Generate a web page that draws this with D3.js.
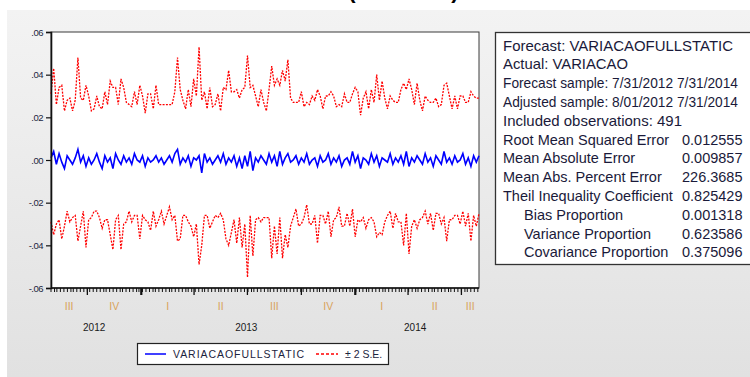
<!DOCTYPE html>
<html>
<head>
<meta charset="utf-8">
<script src="https://cdn.jsdelivr.net/npm/d3@7"></script>
<style>
  body { margin: 0; background: #fff; }
  svg { display: block; font-family: "Liberation Sans", Arial, sans-serif; }
</style>
</head>
<body>
<svg id="chart" width="750" height="377"></svg>
<script>
// forecast (VARIACAOFULLSTATIC)
var forecast = [
  0.001, 0.004, -0.002, 0.003, -0.001, -0.004, 0.002, 0.000, -0.002, 0.001,
  0.005, -0.001, 0.002, -0.003, 0.001, -0.002, 0.000, 0.003, -0.001, -0.004,
  0.002, -0.001, 0.001, -0.004, 0.003, 0.000, -0.002, 0.002, -0.001, 0.001,
  -0.002, 0.003, 0.000, -0.001, 0.002, -0.003, 0.001, -0.001, 0.000, 0.002,
  -0.001, 0.001, -0.002, 0.000, 0.002, -0.001, 0.003, 0.005, -0.002, 0.001,
  -0.001, 0.002, -0.003, 0.001, 0.000, 0.002, -0.006, 0.003, -0.001, 0.001,
  -0.002, 0.000, 0.002, -0.001, 0.003, -0.002, 0.001, -0.001, 0.002, -0.003,
  0.001, -0.004, 0.002, -0.003, 0.004, -0.005, 0.001, -0.001, 0.002, 0.000,
  -0.002, 0.003, -0.001, 0.002, -0.003, 0.004, -0.002, 0.001, 0.003, -0.001,
  0.000, 0.002, -0.002, 0.001, -0.001, 0.003, -0.002, 0.000, 0.001, -0.003,
  0.002, -0.001, 0.000, 0.003, -0.002, 0.001, -0.001, 0.002, -0.003, 0.000,
  0.001, -0.002, 0.004, -0.001, 0.002, -0.004, 0.001, 0.000, -0.002, 0.003,
  -0.001, 0.002, -0.003, 0.001, 0.000, -0.001, 0.003, -0.002, 0.001, -0.001,
  0.002, -0.002, 0.004, -0.003, 0.001, -0.001, 0.002, 0.000, -0.002, 0.003,
  -0.001, 0.001, -0.003, 0.002, 0.000, -0.002, 0.004, -0.001, 0.001, -0.002,
  0.002, -0.001, 0.000, 0.003, -0.002, 0.001, -0.003, 0.002, -0.001, 0.002
];

// two standard errors around the forecast
var twoSE = [
  0.030, 0.039, 0.028, 0.031, 0.036, 0.027, 0.026, 0.029, 0.025, 0.027,
  0.043, 0.030, 0.026, 0.038, 0.029, 0.025, 0.024, 0.027, 0.026, 0.028,
  0.030, 0.027, 0.036, 0.038, 0.031, 0.026, 0.040, 0.032, 0.028, 0.025,
  0.027, 0.029, 0.026, 0.036, 0.028, 0.025, 0.030, 0.032, 0.024, 0.033,
  0.027, 0.025, 0.028, 0.026, 0.024, 0.027, 0.029, 0.043, 0.035, 0.027,
  0.025, 0.031, 0.028, 0.037, 0.030, 0.051, 0.034, 0.029, 0.025, 0.033,
  0.027, 0.026, 0.029, 0.024, 0.031, 0.035, 0.041, 0.033, 0.030, 0.036,
  0.028, 0.037, 0.032, 0.052, 0.030, 0.040, 0.029, 0.026, 0.031, 0.027,
  0.025, 0.030, 0.045, 0.033, 0.041, 0.031, 0.044, 0.036, 0.044, 0.030,
  0.027, 0.025, 0.029, 0.031, 0.026, 0.024, 0.028, 0.030, 0.027, 0.036,
  0.028, 0.025, 0.030, 0.027, 0.034, 0.029, 0.026, 0.024, 0.028, 0.031,
  0.026, 0.029, 0.027, 0.035, 0.030, 0.025, 0.028, 0.032, 0.026, 0.030,
  0.028, 0.038, 0.031, 0.036, 0.029, 0.025, 0.027, 0.030, 0.026, 0.028,
  0.031, 0.038, 0.029, 0.041, 0.032, 0.027, 0.034, 0.028, 0.025, 0.027,
  0.029, 0.026, 0.030, 0.027, 0.025, 0.028, 0.031, 0.037, 0.029, 0.026,
  0.028, 0.025, 0.030, 0.027, 0.029, 0.026, 0.035, 0.028, 0.030, 0.027
];

var yTicks = [0.06, 0.04, 0.02, 0.00, -0.02, -0.04, -0.06];
var yTickLabels = [".06", ".04", ".02", ".00", "-.02", "-.04", "-.06"];
var quarters = ["III", "IV", "I", "II", "III", "IV", "I", "II", "III"];
var years = ["2012", "2013", "2014"];
var statLabels = [
  "Root Mean Squared Error", "Mean Absolute Error", "Mean Abs. Percent Error",
  "Theil Inequality Coefficient", "Bias Proportion", "Variance Proportion",
  "Covariance Proportion"
];
var statValues = ["0.012555", "0.009857", "226.3685", "0.825429", "0.001318", "0.623586", "0.375096"];
var headerLines = [
  "Forecast: VARIACAOFULLSTATIC",
  "Actual: VARIACAO",
  "Forecast sample: 7/31/2012 7/31/2014",
  "Adjusted sample: 8/01/2012 7/31/2014",
  "Included observations: 491"
];
// rendered widths of the header lines (the original font is a bit condensed)
var headerWidths = [230, 125, 235, 235, 179];

var startDate = new Date(2012, 6, 31), endDate = new Date(2014, 6, 31);
var svg = d3.select("#chart");

// background panel with a soft vertical gradient
var defs = svg.append("defs");
var grad = defs.append("linearGradient").attr("id", "bg")
  .attr("x1", 0).attr("y1", 0).attr("x2", 0).attr("y2", 1);
grad.append("stop").attr("offset", "0%").attr("stop-color", "#f3f3f3");
grad.append("stop").attr("offset", "100%").attr("stop-color", "#e1e1e1");
svg.append("rect").attr("x", 7).attr("y", 10).attr("width", 743).attr("height", 367)
  .attr("fill", "url(#bg)");

// title is cut off at the top of the picture, only the brackets peek through
svg.append("text").attr("x", 352).attr("y", -2).attr("font-size", 22)
  .attr("font-weight", "bold").attr("text-anchor", "middle").text("(");
svg.append("text").attr("x", 455).attr("y", -2).attr("font-size", 22)
  .attr("font-weight", "bold").attr("text-anchor", "middle").text(")");

var x = d3.scaleTime().domain([startDate, endDate]).range([51, 479]);
var y = d3.scaleLinear().domain([-0.06, 0.06]).range([288, 32]);

svg.append("rect").attr("x", 51).attr("y", 32).attr("width", 428).attr("height", 256)
  .attr("fill", "#fff").attr("stroke", "#3a3a3a").attr("stroke-width", 1);

var n = forecast.length;
var step = (endDate - startDate) / (n - 1);
var rows = forecast.map(function(f, i) {
  return { date: new Date(+startDate + i * step), f: f, se: twoSE[i] };
});

var line = function(acc) {
  return d3.line().x(function(d) { return x(d.date); }).y(function(d) { return y(acc(d)); });
};

svg.append("path").datum(rows).attr("fill", "none").attr("stroke", "#ff0000")
  .attr("stroke-width", 1.3).attr("stroke-dasharray", "2,1.3")
  .attr("d", line(function(d) { return d.f + d.se; }));
svg.append("path").datum(rows).attr("fill", "none").attr("stroke", "#ff0000")
  .attr("stroke-width", 1.3).attr("stroke-dasharray", "2,1.3")
  .attr("d", line(function(d) { return d.f - d.se; }));
svg.append("path").datum(rows).attr("fill", "none").attr("stroke", "#0000ff")
  .attr("stroke-width", 1.6)
  .attr("d", line(function(d) { return d.f; }));

// y axis
var yAxis = d3.axisLeft(y).tickValues(yTicks).tickSize(5).tickPadding(3)
  .tickFormat(function(d, i) { return yTickLabels[i]; });
var gy = svg.append("g").attr("transform", "translate(51,0)").call(yAxis);
gy.select(".domain").attr("stroke", "#111").attr("stroke-width", 1.6);
gy.selectAll(".tick line").attr("stroke", "#111").attr("stroke-width", 1.2);
gy.selectAll("text").attr("font-size", 9.5).attr("fill", "#1c2440")
  .attr("font-family", "Liberation Sans, Arial, sans-serif").attr("letter-spacing", -0.5);

// x axis: bottom line, minor ticks every 4 business days, quarter ticks
svg.append("line").attr("x1", 51).attr("x2", 479).attr("y1", 288).attr("y2", 288)
  .attr("stroke", "#111").attr("stroke-width", 1.6);
var bdays = d3.timeDay.range(startDate, endDate).filter(function(d) {
  return d.getDay() !== 0 && d.getDay() !== 6;
});
var minor = bdays.filter(function(d, i) { return i % 4 === 0; });
svg.append("g").selectAll("line").data(minor).join("line")
  .attr("x1", function(d) { return x(d); }).attr("x2", function(d) { return x(d); })
  .attr("y1", 288).attr("y2", 292).attr("stroke", "#111").attr("stroke-width", 1);
var qTicks = d3.timeMonth.every(3).range(startDate, endDate);
svg.append("g").selectAll("line").data(qTicks).join("line")
  .attr("x1", function(d) { return x(d); }).attr("x2", function(d) { return x(d); })
  .attr("y1", 288).attr("y2", 295)
  .attr("stroke", "#111").attr("stroke-width", function(d) { return d.getMonth() === 0 ? 2.2 : 1.3; });

var qEdges = [startDate].concat(qTicks, [endDate]);
svg.append("g").selectAll("text").data(quarters).join("text")
  .attr("x", function(d, i) { return (x(qEdges[i]) + x(qEdges[i + 1])) / 2; })
  .attr("y", 310).attr("text-anchor", "middle").attr("font-size", 10.5)
  .attr("fill", "#d9a35c").text(function(d) { return d; });

var yEdges = [startDate, new Date(2013, 0, 1), new Date(2014, 0, 1), endDate];
svg.append("g").selectAll("text").data(years).join("text")
  .attr("x", function(d, i) { return (x(yEdges[i]) + x(yEdges[i + 1])) / 2 - 2; })
  .attr("y", 331).attr("text-anchor", "middle").attr("font-size", 10)
  .attr("fill", "#1a1a1a").text(function(d) { return d; });

// legend
var lg = svg.append("g");
lg.append("rect").attr("x", 137.5).attr("y", 343.5).attr("width", 251).attr("height", 21)
  .attr("fill", "#fff").attr("stroke", "#222").attr("stroke-width", 1.2);
lg.append("line").attr("x1", 145).attr("x2", 166).attr("y1", 354).attr("y2", 354)
  .attr("stroke", "#0000ff").attr("stroke-width", 1.5);
lg.append("text").attr("x", 173).attr("y", 358).attr("font-size", 10.5)
  .attr("fill", "#1c2440").attr("textLength", 131).text("VARIACAOFULLSTATIC");
lg.append("line").attr("x1", 316).attr("x2", 338).attr("y1", 354).attr("y2", 354)
  .attr("stroke", "#ff0000").attr("stroke-width", 1.5).attr("stroke-dasharray", "3,2");
lg.append("text").attr("x", 345).attr("y", 358).attr("font-size", 10.5)
  .attr("fill", "#1c2440").text("\u00b1 2 S.E.");

// statistics box
var box = svg.append("g");
box.append("rect").attr("x", 495.5).attr("y", 32.5).attr("width", 270).attr("height", 232)
  .attr("fill", "#fff").attr("stroke", "#333").attr("stroke-width", 1.3);
var lineH = 18.8, top0 = 50.5, fs = 14.5;
box.selectAll("text.h").data(headerLines).join("text").attr("class", "h")
  .attr("x", 503).attr("y", function(d, i) { return top0 + i * lineH; })
  .attr("font-size", fs).attr("fill", "#1a1a3a")
  .attr("textLength", function(d, i) { return headerWidths[i]; })
  .attr("lengthAdjust", "spacingAndGlyphs")
  .text(function(d) { return d; });
box.selectAll("text.s").data(statLabels).join("text").attr("class", "s")
  .attr("x", function(d, i) { return i >= 4 ? 524 : 503; })
  .attr("y", function(d, i) { return top0 + (i + 5) * lineH; })
  .attr("font-size", fs).attr("fill", "#1a1a3a").text(function(d) { return d; });
box.selectAll("text.v").data(statValues).join("text").attr("class", "v")
  .attr("x", 682).attr("y", function(d, i) { return top0 + (i + 5) * lineH; })
  .attr("font-size", fs).attr("fill", "#1a1a3a").text(function(d) { return d; });
</script>
</body>
</html>
